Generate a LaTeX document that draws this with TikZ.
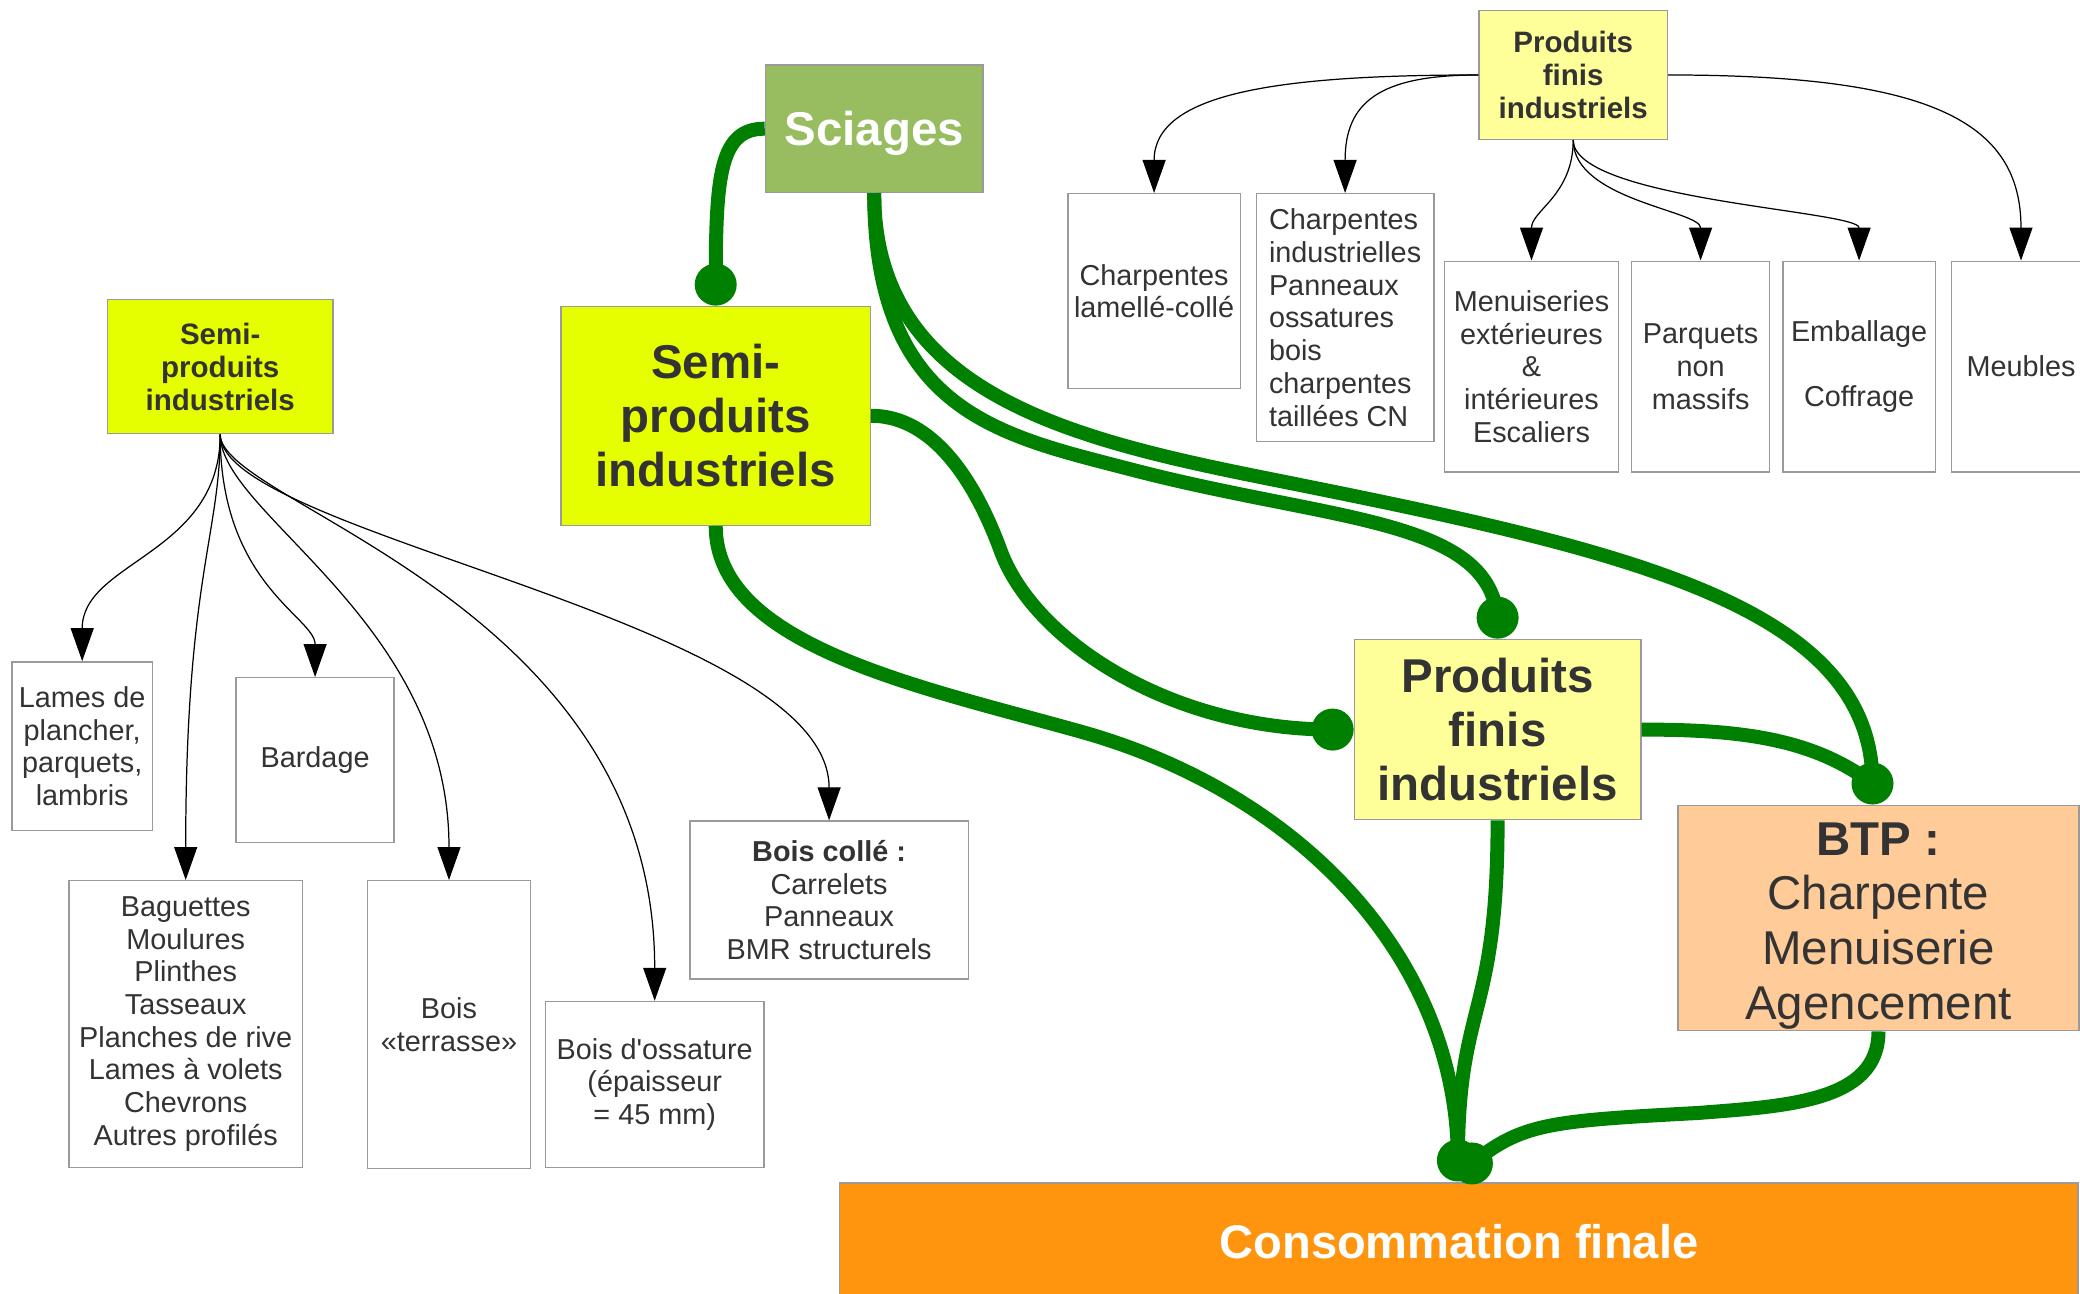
\documentclass[tikz,border=0pt]{standalone}
\usepackage{fontspec}
\setmainfont{Liberation Sans}
\usetikzlibrary{arrows.meta}

\definecolor{boxgray}{HTML}{9A9A9A}
\definecolor{txtgray}{HTML}{333333}
\definecolor{linkgreen}{HTML}{008000}
\definecolor{sciagegreen}{HTML}{97BD60}
\definecolor{semiyellow}{HTML}{E6FF00}
\definecolor{finisyellow}{HTML}{FFFF99}
\definecolor{btppeach}{HTML}{FFCC99}
\definecolor{consoorange}{HTML}{FF950E}

\tikzset{
  leaf/.style={draw=boxgray, line width=0.4pt, fill=white, text=txtgray,
    align=center, inner sep=0pt, font=\fontsize{8.2}{9.3}\selectfont},
  smallhead/.style={leaf, font=\fontsize{8.4}{9.3}\selectfont\bfseries},
  bighead/.style={draw=boxgray, line width=0.4pt, text=txtgray, align=center,
    inner sep=0pt, font=\fontsize{13.5}{15.3}\selectfont\bfseries},
  arr/.style={-{Triangle[length=0.33cm,width=0.23cm]}, line width=0.35pt, black},
  flow/.style={line width=0.14cm, linkgreen},
}

\begin{document}
\begin{tikzpicture}
            \useasboundingbox (0,0) rectangle (20.8,12.94);
            \clip (0,0) rectangle (20.8,12.94);

            % Main boxes
            \node [bighead, fill=sciagegreen, text=white, text depth=0pt, minimum width=2.175cm, minimum height=1.273cm] (sciages) at (8.742,11.653) {Sciages};
            \node [bighead, fill=semiyellow, minimum width=3.091cm, minimum height=2.189cm] (semi) at (7.157,8.782) {Semi-\\produits\\industriels};
            \node [bighead, fill=finisyellow, minimum width=2.865cm, minimum height=1.804cm] (finis) at (14.976,5.644) {Produits\\finis\\industriels};
            \node [bighead, fill=btppeach, minimum width=4.01cm, minimum height=2.255cm] (btp) at (18.785,3.760) {};
            \node [text=txtgray, align=center, inner sep=0pt, font=\fontsize{13.5}{15.6}\selectfont] (btpText) at ([yshift=-0.08cm]btp.center) {\textbf{BTP :}\\Charpente\\Menuiserie\\Agencement};
            \node [bighead, fill=consoorange, text=white, font=\fontsize{13.4}{15}\selectfont\bfseries, minimum width=12.383cm, minimum height=1.168cm] (conso) at (14.589,0.524) {Consommation finale};

            % Left tree: semi-produits
            \node [smallhead, fill=semiyellow, minimum width=2.256cm, minimum height=1.340cm] (semiS) at (2.202,9.272) {Semi-\\produits\\industriels};
            \node [leaf, minimum width=1.406cm, minimum height=1.685cm] (lames) at (0.822,5.479) {Lames de\\plancher,\\parquets,\\lambris};
            \node [leaf, minimum width=1.579cm, minimum height=1.645cm] (bardage) at (3.151,5.340) {Bardage};
            \node [leaf, minimum width=2.334cm, minimum height=2.865cm] (baguettes) at (1.857,2.700) {Baguettes\\Moulures\\Plinthes\\Tasseaux\\Planches de rive\\Lames à volets\\Chevrons\\Autres profilés};
            \node [leaf, minimum width=1.632cm, minimum height=2.879cm] (terrasse) at (4.490,2.693) {Bois\\«terrasse»};
            \node [leaf, minimum width=2.189cm, minimum height=1.658cm] (ossature) at (6.547,2.096) {Bois d\textquotesingle ossature\\(épaisseur\\= 45 mm)};
            \node [leaf, minimum width=2.785cm, minimum height=1.579cm] (colle) at (8.291,3.940) {\textbf{Bois collé :}\\Carrelets\\Panneaux\\BMR structurels};

            % Top tree: produits finis
            \node [smallhead, fill=finisyellow, minimum width=1.884cm, minimum height=1.287cm] (finisS) at (15.732,12.190) {Produits\\finis\\industriels};
            \node [leaf, minimum width=1.725cm, minimum height=1.950cm] (lamelle) at (11.541,10.028) {Charpentes\\lamellé-collé};
            \node [leaf, align=left, minimum width=1.777cm, minimum height=2.480cm] (charpind) at (13.451,9.763) {Charpentes\\industrielles\\Panneaux\\ossatures\\bois\\charpentes\\taillées CN};
            \node [leaf, minimum width=1.737cm, minimum height=2.109cm] (menuis) at (15.315,9.273) {Menuiseries\\extérieures\\\&\\intérieures\\Escaliers};
            \node [leaf, minimum width=1.380cm, minimum height=2.109cm] (parquets) at (17.006,9.273) {Parquets\\non\\massifs};
            \node [leaf, minimum width=1.526cm, minimum height=2.109cm] (emballage) at (18.591,9.273) {Emballage\\~\\Coffrage};
            \node [leaf, minimum width=1.390cm, minimum height=2.109cm] (meubles) at (20.210,9.273) {Meubles};

            % Arrows of the left tree
            \draw [arr] (semiS.south) .. controls +(0,-1.2) and +(0,1.0) .. (lames.north);
            \draw [arr] (semiS.south) .. controls +(0,-1.0) and +(0,3.0) .. (baguettes.north);
            \draw [arr] (semiS.south) .. controls +(0,-1.5) and +(0,0.6) .. (bardage.north);
            \draw [arr] (semiS.south) .. controls +(0,-0.8) and +(0,2.6) .. (terrasse.north);
            \draw [arr] (semiS.south) .. controls +(0,-0.7) and +(0,4.0) .. (ossature.north);
            \draw [arr] (semiS.south) .. controls +(0,-1.0) and +(0,2.0) .. (colle.north);

            % Arrows of the top tree
            \draw [arr] (finisS.west) .. controls +(-2.0,0) and +(0,1.0) .. (lamelle.north);
            \draw [arr] (finisS.west) .. controls +(-1.0,0) and +(0,0.9) .. (charpind.north);
            \draw [arr] (finisS.south) .. controls +(0,-0.55) and +(0,0.5) .. (menuis.north);
            \draw [arr] (finisS.south) .. controls +(0,-0.6) and +(0,0.5) .. (parquets.north);
            \draw [arr] (finisS.south) .. controls +(0,-0.6) and +(0,0.5) .. (emballage.north);
            \draw [arr] (finisS.east) .. controls +(2.6,0) and +(0,1.4) .. (meubles.north);

            % Ends of the green flows
            \coordinate (semiIn) at ([yshift=0.21cm]semi.north);
            \coordinate (finisTopIn) at ([yshift=0.21cm]finis.north);
            \coordinate (finisLeftIn) at ([xshift=-0.21cm]finis.west);
            \coordinate (btpIn) at ([xshift=-0.06cm,yshift=0.21cm]btp.north);
            \coordinate (consoInL) at ([xshift=-0.01cm,yshift=0.22cm]conso.north);
            \coordinate (consoInR) at ([xshift=0.13cm,yshift=0.19cm]conso.north);

            % Green flows
            \draw [flow] (sciages.west) .. controls +(-0.45,0) and +(0,1.1) .. (semiIn);
            \draw [flow] (sciages.south) .. controls +(0,-2.2) and +(-1.3,0.34) .. (11.315,8.244)
                         .. controls +(2.0,-0.52) and +(-0.1,1.0) .. (finisTopIn);
            \draw [flow] (sciages.south) .. controls +(0,-2.0) and +(-2.0,0.4) .. (12.70,8.15)
                         .. controls +(3.5,-0.7) and +(0,1.8) .. (btpIn);
            \draw [flow] (semi.east) .. controls +(0.7,0) and +(-0.2,0.55) .. (10.015,7.41)
                         .. controls +(0.35,-0.9) and +(-1.6,0) .. (finisLeftIn);
            \draw [flow] (semi.south) .. controls +(0,-1.2) and +(-1.6,0.45) .. (10.82,5.62)
                         .. controls +(2.2,-0.62) and +(0,2.0) .. (consoInL);
            \draw [flow] (finis.south) .. controls +(0,-2.0) and +(0,1.6) .. (consoInL);
            \draw [flow] (finis.east) .. controls +(1.0,0) and +(-0.6,0.45) .. (btpIn);
            \draw [flow] (btp.south) .. controls +(0,-0.7) and +(0.9,0.07) .. (16.98,1.81)
                         .. controls +(-1.5,-0.08) and +(0.5,0.4) .. (consoInR);

            % Round ends
            \foreach \p in {semiIn, finisTopIn, finisLeftIn, btpIn, consoInL, consoInR}
              \fill [linkgreen] (\p) circle (0.21);
\end{tikzpicture}
\end{document}
